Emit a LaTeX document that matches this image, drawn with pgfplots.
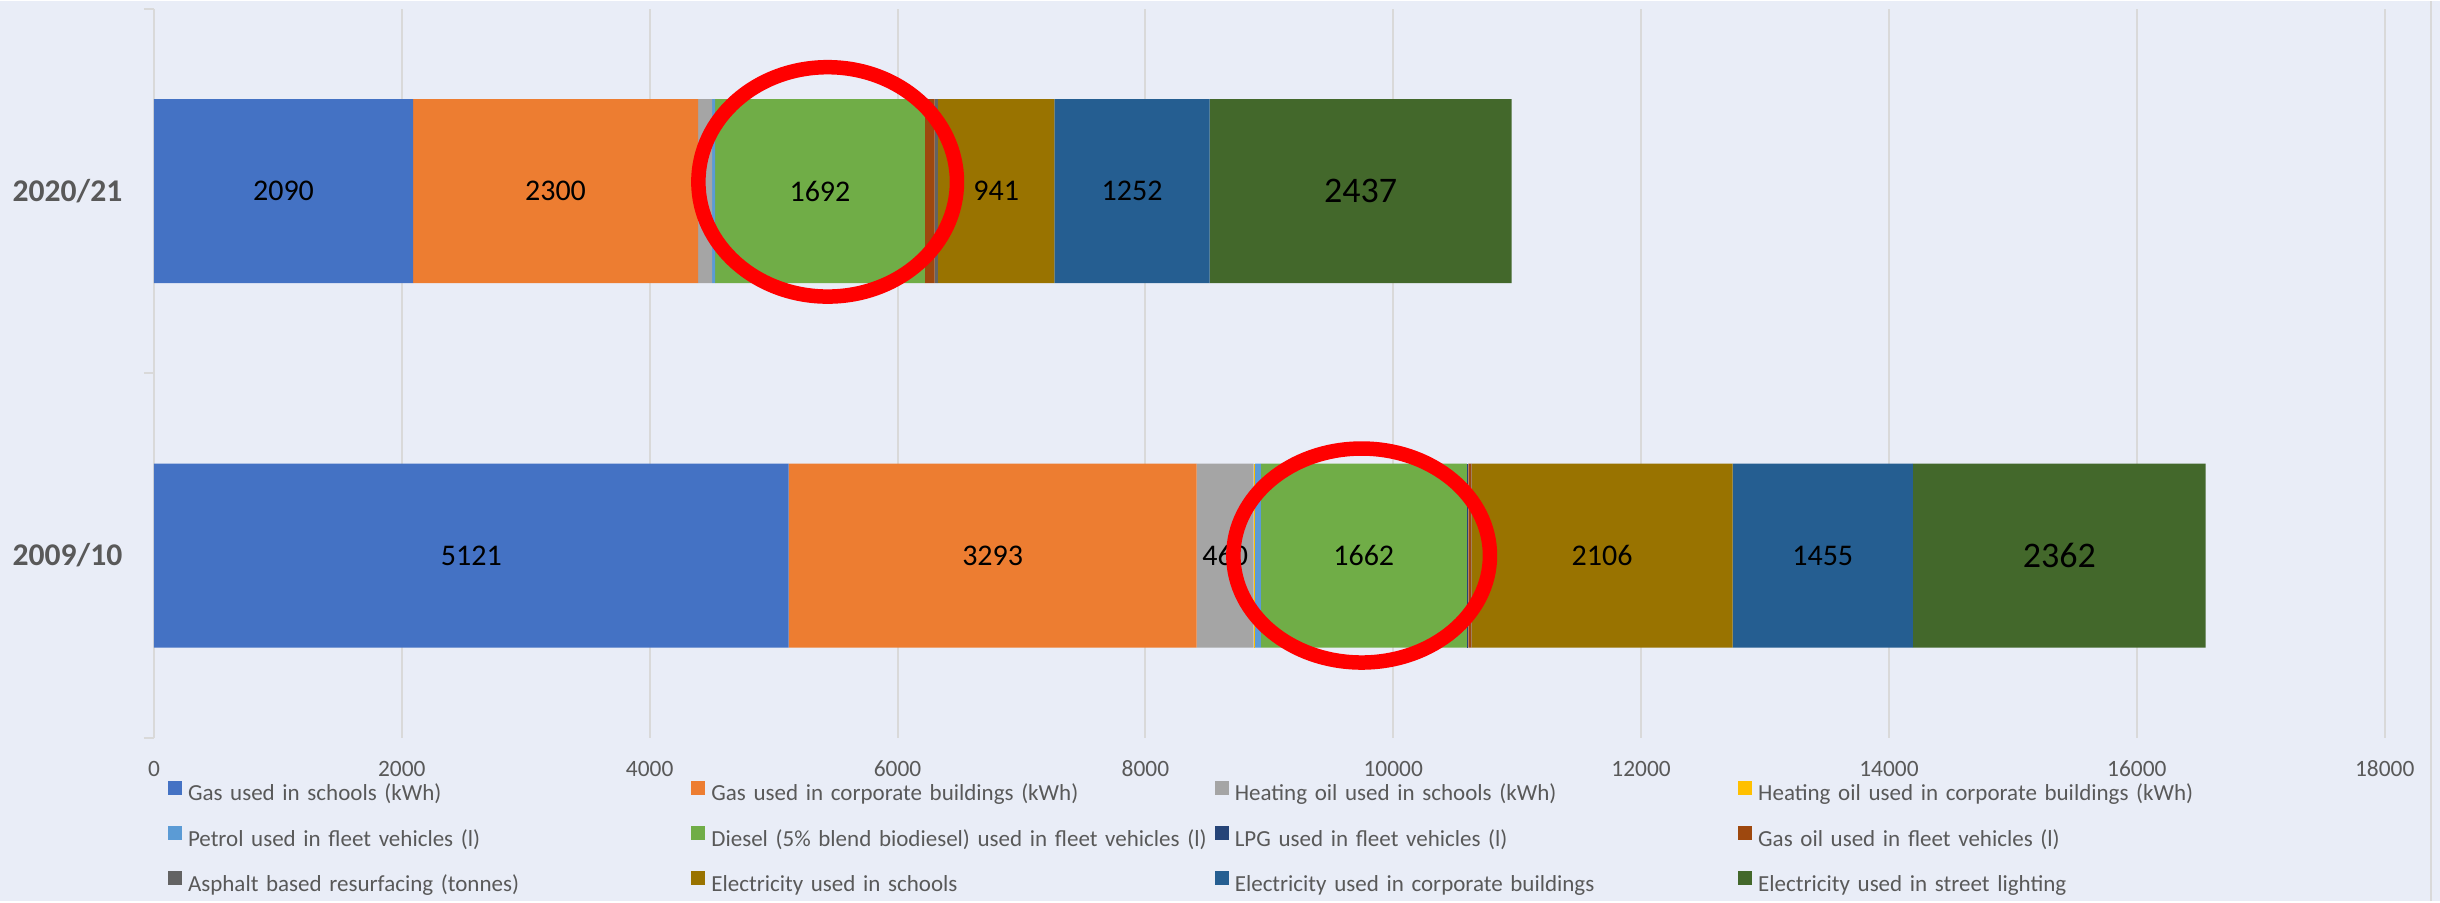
\documentclass[border=0pt]{standalone}
\usepackage{pgfplots}
\pgfplotsset{compat=1.18}
\usepackage{pgfplotstable}
\usepackage{fontspec}
\setmainfont{Carlito}
\definecolor{bg}{HTML}{E9EDF7}
\definecolor{gridc}{HTML}{D9D9D9}
\definecolor{tickc}{HTML}{595959}
\definecolor{c1}{HTML}{4472C4}
\definecolor{c2}{HTML}{ED7D31}
\definecolor{c3}{HTML}{A5A5A5}
\definecolor{c4}{HTML}{FFC000}
\definecolor{c5}{HTML}{5B9BD5}
\definecolor{c6}{HTML}{70AD47}
\definecolor{c7}{HTML}{264478}
\definecolor{c8}{HTML}{9E480E}
\definecolor{c9}{HTML}{636363}
\definecolor{c10}{HTML}{997300}
\definecolor{c11}{HTML}{255E91}
\definecolor{c12}{HTML}{43682B}

\pgfplotstableread{
y gs gc hos hoslab hoc pet die lpg gasoil asp es ec esl
1 2090 2300 113 {} 0 25 1692 0 80 25 941 1252 2437
0 5121 3293 460 460 12 45 1662 12 25 2 2106 1455 2362
}\data

\pgfplotsset{
  lbl/.style={nodes near coords, point meta=explicit symbolic,
    every node near coord/.append style={anchor=center,
      font=\fontsize{15}{18}\selectfont, text=black, inner sep=0pt}},
}

\begin{document}
\begin{tikzpicture}
\fill[bg] (0,0) rectangle (1220pt,450pt);
\draw[gridc, line width=1pt] (1215.5pt,0) -- (1215.5pt,450pt);
\begin{axis}[
  at={(77pt,81.65pt)}, anchor=south west,
  scale only axis, width=1115.35pt, height=364.35pt,
  xbar stacked, bar width=92pt,
  xmin=0, xmax=18000, ymin=-0.5, ymax=1.5,
  enlargelimits=false, clip=false,
  axis lines=left, axis line style={-},
  x axis line style={draw=none},
  y axis line style={draw=gridc, line width=1pt},
  xtick={0,2000,...,18000},
  scaled x ticks=false,
  xmajorgrids, ymajorgrids=false,
  major grid style={draw=gridc, line width=1pt},
  ytick={0,1}, yticklabels={2009/10,2020/21},
  major tick length=0pt,
  extra y ticks={-0.5,0.5,1.5}, extra y tick labels={},
  extra y tick style={grid=none, major tick length=5pt, tick align=outside,
    tick style={draw=gridc, line width=1pt}},
  xticklabel style={font=\fontsize{11.7}{14}\selectfont, text=tickc, anchor=center, inner sep=0pt, yshift=-15.65pt},
  yticklabel style={font=\fontsize{15.8}{18}\selectfont\bfseries, text=tickc, anchor=east, inner sep=0pt, xshift=-15.65pt},
  /pgf/number format/assume math mode=true,
  /pgf/number format/1000 sep={},
  legend columns=4,
  legend cell align=left,
  legend image code/.code={\fill[#1] (0pt,0pt) rectangle (7pt,7pt);},
  legend style={at={(axis description cs:0.00628,-0.0594)}, anchor=north west,
    draw=none, fill=none, inner sep=0pt, outer sep=0pt, row sep=9.5pt, column sep=0pt,
    font=\fontsize{11.5}{14}\selectfont,
    nodes={inner sep=0pt, text height=9pt, text depth=3pt, text=tickc},
    /tikz/every odd column/.append style={column sep=3pt},
    /tikz/every even column/.append style={text width=251.7pt}},
]
\addplot[fill=c1, draw=none, lbl] table[x=gs, y=y, meta=gs] {\data};
\addlegendentry{Gas used in schools (kWh)}
\addplot[fill=c2, draw=none, lbl] table[x=gc, y=y, meta=gc] {\data};
\addlegendentry{Gas used in corporate buildings (kWh)}
\addplot[fill=c3, draw=none, lbl] table[x=hos, y=y, meta=hoslab] {\data};
\addlegendentry{Heating oil used in schools (kWh)}
\addplot[fill=c4, draw=none] table[x=hoc, y=y] {\data};
\addlegendentry{Heating oil used in corporate buildings (kWh)}
\addplot[fill=c5, draw=none] table[x=pet, y=y] {\data};
\addlegendentry{Petrol used in fleet vehicles (l)}
\addplot[fill=c6, draw=none, lbl] table[x=die, y=y, meta=die] {\data};
\addlegendentry{\mbox{Diesel (5\% blend biodiesel) used in fleet vehicles (l)}}
\addplot[fill=c7, draw=none] table[x=lpg, y=y] {\data};
\addlegendentry{LPG used in fleet vehicles (l)}
\addplot[fill=c8, draw=none] table[x=gasoil, y=y] {\data};
\addlegendentry{Gas oil used in fleet vehicles (l)}
\addplot[fill=c9, draw=none] table[x=asp, y=y] {\data};
\addlegendentry{Asphalt based resurfacing (tonnes)}
\addplot[fill=c10, draw=none, lbl] table[x=es, y=y, meta=es] {\data};
\addlegendentry{Electricity used in schools}
\addplot[fill=c11, draw=none, lbl] table[x=ec, y=y, meta=ec] {\data};
\addlegendentry{Electricity used in corporate buildings}
\addplot[fill=c12, draw=none, lbl, every node near coord/.append style={font=\fontsize{18}{21}\selectfont}] table[x=esl, y=y, meta=esl] {\data};
\addlegendentry{Electricity used in street lighting}
\coordinate (e1) at (axis cs:5436,1.0255);
\coordinate (e2) at (axis cs:9745,0);
\end{axis}
\draw[red, line width=7.25pt] (e1) ellipse [x radius=64.65pt, y radius=57.35pt];
\draw[red, line width=7.25pt] (e2) ellipse [x radius=64.15pt, y radius=53.5pt];
\end{tikzpicture}
\end{document}
